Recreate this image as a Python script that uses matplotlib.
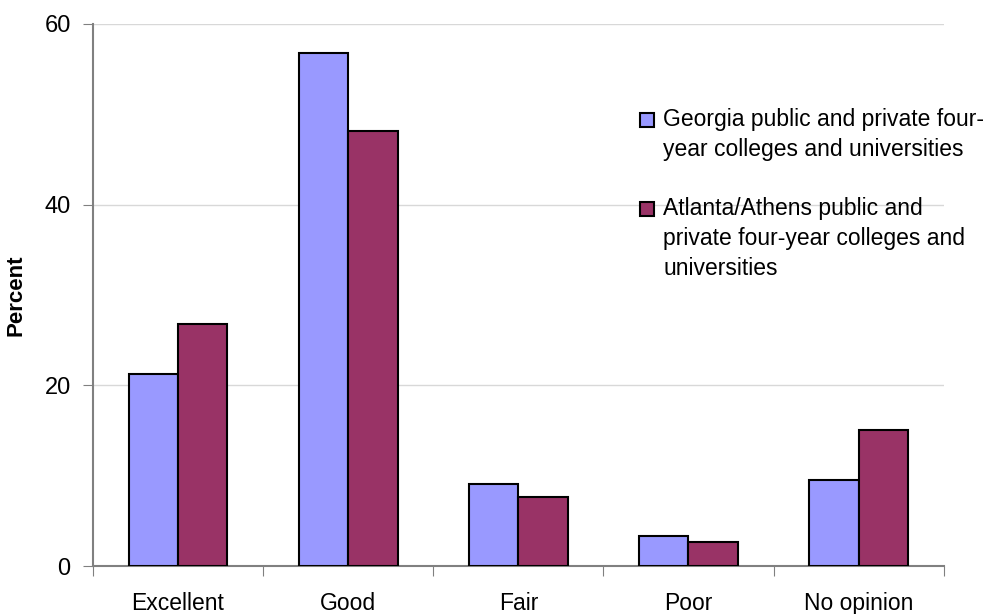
import matplotlib
matplotlib.use("Agg")
import matplotlib.pyplot as plt
from matplotlib.patches import Rectangle
import numpy as np

plt.rcParams['font.family'] = ['Liberation Sans', 'DejaVu Sans']

categories = ["Excellent", "Good", "Fair", "Poor", "No opinion"]
georgia = [21.3, 56.8, 9.1, 3.3, 9.5]
atl_athens = [26.8, 48.2, 7.6, 2.7, 15.1]
series_names = ["Georgia public and private four-\nyear colleges and universities",
                "Atlanta/Athens public and\nprivate four-year colleges and\nuniversities"]
colors = ["#9999FF", "#993366"]

fig = plt.figure(figsize=(10.05, 6.14), dpi=100)
ax = fig.add_axes([0.0925, 0.078, 0.8465, 0.883])

x = np.arange(len(categories))
w = 0.29
ax.bar(x - w/2, georgia, w, color=colors[0], edgecolor="black", linewidth=1.5, zorder=3)
ax.bar(x + w/2, atl_athens, w, color=colors[1], edgecolor="black", linewidth=1.5, zorder=3)

ax.set_xlim(-0.5, len(categories) - 0.5)
ax.set_ylim(0, 60)
ax.set_yticks([0, 20, 40, 60])
ax.yaxis.grid(True, color="#d8d8d8", linewidth=1, zorder=0)

# group separators as ticks, labels in the middle
ax.set_xticks(np.arange(-0.5, len(categories)))
ax.set_xticklabels([])
ax.set_xticks(x, minor=True)
ax.set_xticklabels(categories, minor=True)
ax.tick_params(axis='x', which='minor', length=0, pad=19, labelsize=16.5)
ax.tick_params(axis='x', which='major', length=7, color="#808080", direction='out')
ax.tick_params(axis='y', length=7, color="#808080", labelsize=17, pad=9)

for s in ["top", "right"]:
    ax.spines[s].set_visible(False)
for s in ["left", "bottom"]:
    ax.spines[s].set_color("#808080")
    ax.spines[s].set_linewidth(1.5)

ax.set_ylabel("Percent", fontsize=16, fontweight="bold")
ax.yaxis.set_label_coords(-0.078, 0.5)

# legend drawn by hand so the square sits on the first line
entry_tops = [0.817, 0.672]
for name, col, top in zip(series_names, colors, entry_tops):
    fig.patches.append(Rectangle((0.637, top - 0.024), 0.0135, 0.023, transform=fig.transFigure,
                                 facecolor=col, edgecolor="black", linewidth=1.5))
    fig.text(0.660, top + 0.007, name, fontsize=16.5, va="top", ha="left", linespacing=1.4)

plt.savefig("out.png", dpi=100)
